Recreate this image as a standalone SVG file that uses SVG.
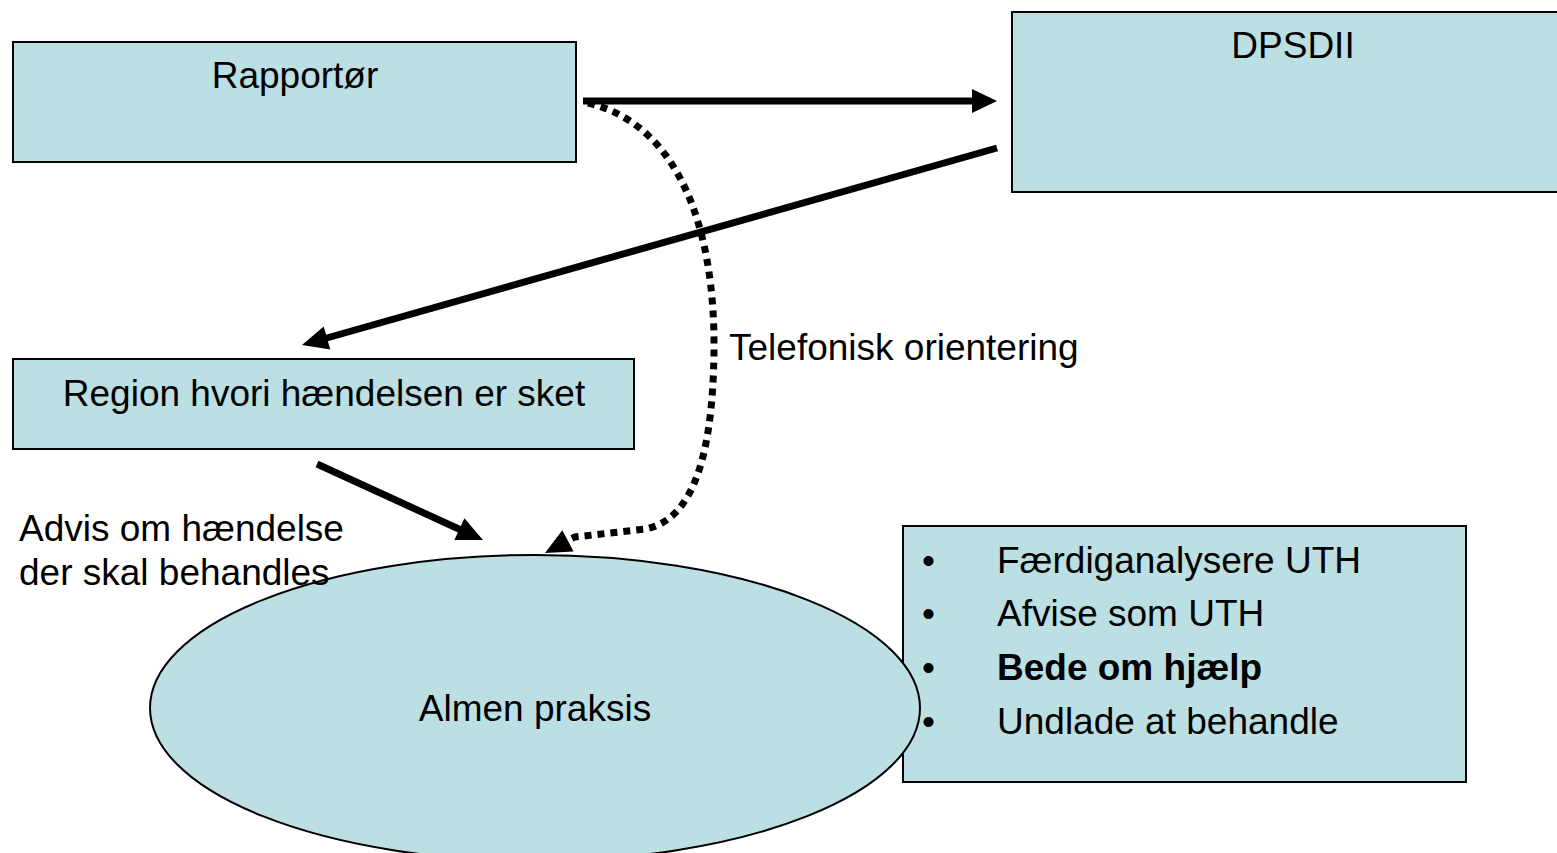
<svg xmlns="http://www.w3.org/2000/svg" width="1557" height="853" viewBox="0 0 1557 853">
<style>
.box{fill:#bbdfe2;stroke:#000;stroke-width:2}
.t{font-family:"Liberation Sans",Arial,sans-serif;font-size:37px;fill:#000}
.c{stroke:#000;stroke-width:7;fill:none}
.d{stroke:#000;stroke-width:7;fill:none;stroke-dasharray:7 6}
.h{fill:#000}
</style>
<rect width="1557" height="853" fill="#fff"/>
<g id="rapportor">
<rect class="box" x="13" y="42" width="563" height="120"/>
<text class="t" x="295" y="88" text-anchor="middle">Rapportør</text>
</g>
<g id="dpsdii">
<rect class="box" x="1012" y="12" width="550" height="180"/>
<text class="t" x="1293" y="58" text-anchor="middle">DPSDII</text>
</g>
<g id="region">
<rect class="box" x="13" y="359" width="621" height="90"/>
<text class="t" x="324" y="406" text-anchor="middle">Region hvori hændelsen er sket</text>
</g>
<g id="actions">
<rect class="box" x="903" y="526" width="563" height="256"/>
<g class="t">
<text x="922" y="573">•</text><text x="997" y="573">Færdiganalysere UTH</text>
<text x="922" y="626">•</text><text x="997" y="626">Afvise som UTH</text>
<text x="922" y="680">•</text><text x="997" y="680" font-weight="bold">Bede om hjælp</text>
<text x="922" y="734">•</text><text x="997" y="734">Undlade at behandle</text>
</g>
</g>
<g id="almen">
<ellipse class="box" cx="535" cy="708" rx="385" ry="153"/>
<text class="t" x="535" y="721" text-anchor="middle">Almen praksis</text>
</g>
<g id="connectors">
<line class="c" x1="583" y1="101" x2="974" y2="101"/>
<polygon class="h" points="972,89 997,101 972,113"/>
<line class="c" x1="997" y1="148" x2="325" y2="338.5"/>
<polygon class="h" points="330.3,349.4 302,345 323.7,326.4"/>
<line class="c" x1="317" y1="464" x2="461" y2="530"/>
<polygon class="h" points="454.4,540.1 483,540 464.4,518.3"/>
<path class="d" d="M588,103 C680,125 715,230 714,350 C713,450 695,520 645,529 L575,537 L566,541"/>
<polygon class="h" points="573.6,551.4 545,553 562.3,530.2"/>
</g>
<g id="labels">
<text class="t" x="729" y="360">Telefonisk orientering</text>
<text class="t" x="19" y="541">Advis om hændelse</text>
<text class="t" x="19" y="585">der skal behandles</text>
</g>
</svg>
